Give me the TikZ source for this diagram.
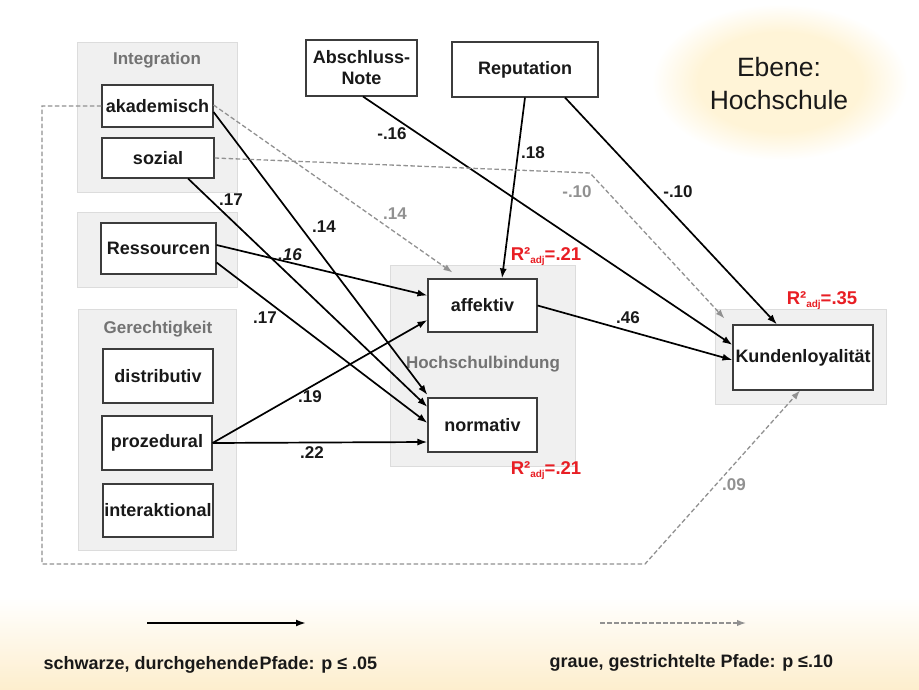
\documentclass[tikz,border=0pt]{standalone}
\usepackage{fontspec}
\setmainfont{Liberation Sans}
\usetikzlibrary{arrows.meta,calc}

\definecolor{grpfill}{RGB}{240,240,240}
\definecolor{grpline}{RGB}{220,220,220}
\definecolor{boxline}{RGB}{60,60,60}
\definecolor{dashgray}{RGB}{145,145,145}
\definecolor{titlegray}{RGB}{115,115,115}
\definecolor{rsqred}{RGB}{232,30,36}
\definecolor{glowc}{RGB}{255,244,215}
\definecolor{bandc}{RGB}{253,238,205}
\definecolor{textdark}{RGB}{25,25,25}

\pgfdeclareradialshading{glow}{\pgfpoint{0bp}{0bp}}{color(0bp)=(glowc); color(16bp)=(glowc); color(25bp)=(white); color(50bp)=(white)}

\newcommand\rsqadj{\raisebox{-3pt}{\fontsize{10}{10}\selectfont adj}}

\begin{document}
\begin{tikzpicture}[x=1pt,y=-1pt,
  grp/.style={draw=grpline, fill=grpfill, line width=0.7pt, inner sep=0pt},
  grptitle/.style={text=titlegray, font=\bfseries\fontsize{17}{18}\selectfont},
  var/.style={draw=boxline, fill=white, line width=1.1pt, inner sep=0pt, align=center,
              text=textdark, font=\bfseries\fontsize{18}{21}\selectfont},
  sig/.style={-{Latex[length=10pt,width=7pt]}, line width=1.7pt, black},
  trend/.style={-{Latex[length=9pt,width=6.5pt]}, line width=1.3pt, dashgray, dash pattern=on 4.5pt off 2.5pt},
  coef/.style={text=textdark, font=\bfseries\fontsize{17}{18}\selectfont},
  gcoef/.style={text=dashgray, font=\bfseries\fontsize{17}{18}\selectfont},
  rsq/.style={text=rsqred, font=\bfseries\fontsize{18.5}{20}\selectfont},
  legtext/.style={text=textdark, anchor=west, font=\bfseries\fontsize{18}{20}\selectfont}]

\useasboundingbox (0,0) rectangle (919,690);
\fill[white] (0,0) rectangle (919,690);

% soft yellow band for the legend and the glow behind the level label
\shade[top color=white, bottom color=bandc] (0,597) rectangle (919,690);
\shade[shading=glow] (780,82) ellipse [x radius=128, y radius=78];
\node[text=textdark, align=center, font=\fontsize{26.5}{33}\selectfont] (ebene) at (779,84) {Ebene:\\Hochschule};

% construct groups
\node[grp, minimum width=160pt, minimum height=150pt] (gInt) at (157,117) {};
\node[grp, minimum width=160pt, minimum height=75pt]  (gRes) at (157,249.5) {};
\node[grp, minimum width=158pt, minimum height=241pt] (gGer) at (157,429.5) {};
\node[grp, minimum width=185pt, minimum height=201pt] (gHB)  at (482.5,365.5) {};
\node[grp, minimum width=171pt, minimum height=95pt]  (gKL)  at (800.5,356.5) {};

\node[grptitle] (tInt) at (157,60) {Integration};
\node[grptitle] (tGer) at (158,329) {Gerechtigkeit};
\node[grptitle] (tHB)  at (483,364) {Hochschulbindung};

% variables
\node[var, minimum width=111pt, minimum height=42pt] (akad)  at (157.5,106) {akademisch};
\node[var, minimum width=112pt, minimum height=40pt] (sozial) at (158,158) {sozial};
\node[var, minimum width=115pt, minimum height=51pt] (ress)  at (158.5,248.5) {Ressourcen};
\node[var, minimum width=110pt, minimum height=54pt] (distr) at (158,376) {distributiv};
\node[var, minimum width=110pt, minimum height=54pt] (proz)  at (157,443) {prozedural};
\node[var, minimum width=110pt, minimum height=53pt] (inter) at (158,510.5) {interaktional};
\node[var, minimum width=111pt, minimum height=56pt] (absch) at (361.5,68) {Abschluss-\\Note};
\node[var, minimum width=146pt, minimum height=55pt] (reput) at (525,69.5) {Reputation};
\node[var, minimum width=109pt, minimum height=53pt] (affek) at (482.5,305.5) {affektiv};
\node[var, minimum width=109pt, minimum height=54pt] (norm)  at (482.5,425) {normativ};
\node[var, minimum width=140pt, minimum height=65pt] (kunde) at (803,357.5) {Kundenloyalität};

% bend points of the dashed paths
\coordinate (bendS) at (590,173);
\coordinate (loopB) at (42,564);
\coordinate (loopC) at (645,564);

% significant paths (p <= .05)
\draw[sig] ([yshift=-6pt]akad.east) -- ([yshift=30pt]norm.west);
\draw[sig] ([xshift=30pt]sozial.south) -- ([yshift=18pt]norm.west);
\draw[sig] ([yshift=3.5pt]ress.east) -- ([yshift=10pt]affek.west);
\draw[sig] ([yshift=-14pt]ress.east) -- ([yshift=2pt]norm.west);
\draw[sig] (proz.east) -- ([yshift=-14.5pt]affek.west);
\draw[sig] (proz.east) -- ([yshift=-17pt]norm.west);
\draw[sig] ([xshift=1.5pt]absch.south) -- ([yshift=12.5pt]kunde.west);
\draw[sig] (reput.south) -- ([xshift=19.5pt]affek.north);
\draw[sig] ([xshift=40pt]reput.south) -- ([xshift=-26pt]kunde.north);
\draw[sig] (affek.east) -- ([yshift=-2.5pt]kunde.west);

% marginal paths (p <= .10)
\draw[trend] ([yshift=1pt]akad.east) -- ([xshift=25pt,yshift=6pt]affek.north west);
\draw[trend] (sozial.east) -- (bendS) -- ([xshift=-8pt,yshift=6pt]kunde.north west);
\draw[trend] (akad.west) -| (loopB) -- (loopC) -- ([xshift=-3pt]kunde.south);

% path coefficients
\node[gcoef] (c1)  at (395,214) {.14};
\node[coef]  (c2)  at (324,227) {.14};
\node[coef]  (c3)  at (392,134) {-.16};
\node[coef]  (c4)  at (533,153) {.18};
\node[gcoef] (c5)  at (577,192) {-.10};
\node[coef]  (c6)  at (678,192) {-.10};
\node[coef]  (c7)  at (231,200) {.17};
\node[coef]  (c8)  at (290,255) {\itshape .16};
\node[coef]  (c9)  at (265,318) {.17};
\node[coef]  (c10) at (310,397) {.19};
\node[coef]  (c11) at (312,453) {.22};
\node[coef]  (c12) at (628,318) {.46};
\node[gcoef] (c13) at (734,485) {.09};

% explained variance
\node[rsq] (r1) at (546,257) {R²\rsqadj=.21};
\node[rsq] (r2) at (546,471) {R²\rsqadj=.21};
\node[rsq] (r3) at (822,301) {R²\rsqadj=.35};

% legend
\coordinate (lgA) at (147,623);
\coordinate (lgB) at (306,623);
\coordinate (lgC) at (600,623);
\coordinate (lgD) at (746,623);
\draw[sig, line width=2.4pt] (lgA) -- (lgB);
\draw[trend, line width=1.4pt] (lgC) -- (lgD);
\node[legtext] (leg1) at (40,665) {schwarze, durchgehende\hspace{1pt}Pfade: p ≤ .05};
\node[legtext] (leg2) at (546,663) {graue, gestrichtelte Pfade: p ≤.10};
\end{tikzpicture}
\end{document}
